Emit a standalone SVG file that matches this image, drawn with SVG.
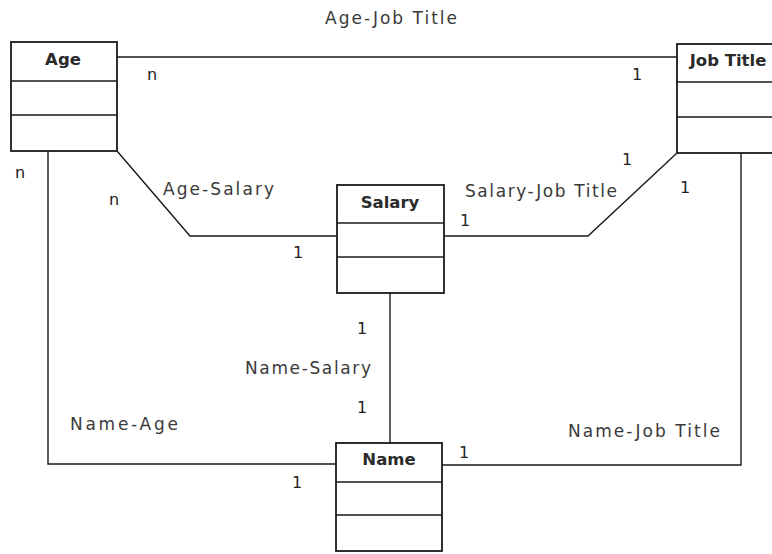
<svg xmlns="http://www.w3.org/2000/svg" width="772" height="554" viewBox="0 0 772 554">
  <style>
    .box { fill: #ffffff; stroke: #1a1a1a; stroke-width: 1.8; }
    .div { stroke: #1a1a1a; stroke-width: 1.5; }
    .title { font-family: "DejaVu Sans", "Liberation Sans", sans-serif; font-size: 16.5px; font-weight: bold; fill: #2a2a2a; text-anchor: middle; }
    .lbl { font-family: "DejaVu Sans", "Liberation Sans", sans-serif; font-size: 17px; fill: #3a3a3a; }
    .card { font-family: "DejaVu Sans", "Liberation Sans", sans-serif; font-size: 16px; fill: #222222; }
    .conn { fill: none; stroke: #1a1a1a; stroke-width: 1.4; }
  </style>
  <rect width="772" height="554" fill="#ffffff"/>

  <!-- relationships -->
  <g id="connectors">
    <path class="conn" d="M117,57 H677"/>
    <path class="conn" d="M117,151 L190,236 H337"/>
    <path class="conn" d="M444,236 H588 L677,153"/>
    <path class="conn" d="M390,293 V443"/>
    <path class="conn" d="M48,151 V464 H336"/>
    <path class="conn" d="M442,465 H741 V153"/>

    <text class="lbl" x="325" y="24" textLength="132" lengthAdjust="spacing">Age-Job Title</text>
    <text class="lbl" x="163" y="195" textLength="111" lengthAdjust="spacing">Age-Salary</text>
    <text class="lbl" x="465" y="197" textLength="152" lengthAdjust="spacing">Salary-Job Title</text>
    <text class="lbl" x="245" y="374" textLength="126" lengthAdjust="spacing">Name-Salary</text>
    <text class="lbl" x="70" y="430" textLength="108" lengthAdjust="spacing">Name-Age</text>
    <text class="lbl" x="568" y="437" textLength="152" lengthAdjust="spacing">Name-Job Title</text>

    <text class="card" x="147" y="80">n</text>
    <text class="card" x="632" y="80">1</text>
    <text class="card" x="15" y="178">n</text>
    <text class="card" x="109" y="205">n</text>
    <text class="card" x="293" y="258">1</text>
    <text class="card" x="622" y="165">1</text>
    <text class="card" x="460" y="226">1</text>
    <text class="card" x="680" y="193">1</text>
    <text class="card" x="357" y="334">1</text>
    <text class="card" x="357" y="413">1</text>
    <text class="card" x="459" y="458">1</text>
    <text class="card" x="292" y="488">1</text>
  </g>

  <g id="age">
    <rect class="box" x="11" y="42" width="106" height="109"/>
    <line class="div" x1="11" y1="81" x2="117" y2="81"/>
    <line class="div" x1="11" y1="115" x2="117" y2="115"/>
    <text class="title" x="63" y="65">Age</text>
  </g>

  <g id="job-title">
    <rect class="box" x="677" y="44" width="106" height="109"/>
    <line class="div" x1="677" y1="82" x2="783" y2="82"/>
    <line class="div" x1="677" y1="117" x2="783" y2="117"/>
    <text class="title" x="728" y="66">Job Title</text>
  </g>

  <g id="salary">
    <rect class="box" x="337" y="185" width="107" height="108"/>
    <line class="div" x1="337" y1="223" x2="444" y2="223"/>
    <line class="div" x1="337" y1="257" x2="444" y2="257"/>
    <text class="title" x="390" y="208">Salary</text>
  </g>

  <g id="name">
    <rect class="box" x="336" y="443" width="106" height="108"/>
    <line class="div" x1="336" y1="482" x2="442" y2="482"/>
    <line class="div" x1="336" y1="515" x2="442" y2="515"/>
    <text class="title" x="389" y="465">Name</text>
  </g>
</svg>
